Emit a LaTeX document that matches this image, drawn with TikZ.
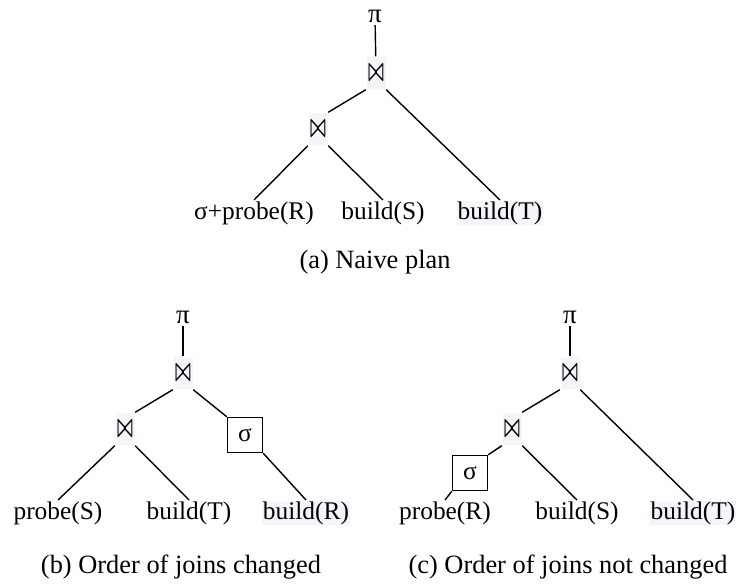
\documentclass[tikz,border=0pt]{standalone}
\usepackage{fontspec}
\usepackage{graphicx}
\setmainfont{Liberation Serif}
\definecolor{hilite}{RGB}{243,245,248}
\newcommand{\jsym}{\raisebox{-1.5pt}{\resizebox{8pt}{7.5pt}{\boldmath$\bowtie$}}}

\begin{document}
\begin{tikzpicture}[x=0.5pt,y=-0.5pt,line width=0.7pt,
    joinbox/.style={fill=hilite,inner sep=0pt,minimum width=9.5pt,minimum height=16pt},
    leaf/.style={anchor=north,inner sep=0.4pt,font=\fontsize{12.7}{15}\selectfont},
    sel/.style={draw,line width=0.7pt,inner sep=0pt,minimum size=17.5pt,font=\fontsize{12.7}{15}\selectfont},
    proj/.style={inner sep=1pt,font=\fontsize{13.5}{15}\selectfont},
    capt/.style={font=\fontsize{13.2}{16}\selectfont}]

    \useasboundingbox (0,0) rectangle (738,588);

    %(a) naive plan:
    \node[proj] (pa) at (375,16) {π};
    \node[joinbox] (ja1) at (376,73) {\jsym};
    \node[joinbox] (ja2) at (318,129) {\jsym};
    \node[leaf] (ra) at (254,200) {σ+probe(R)};
    \node[leaf] (sa) at (383,200) {build(S)};
    \node[leaf,fill=hilite] (ta) at (500,200) {build(T)};
    \draw (pa) -- (ja1);
    \draw (ja1.south west) -- (ja2.north east);
    \draw (ja1.south east) -- (ta.north);
    \draw (ja2.south west) -- (ra.north);
    \draw (ja2.south east) -- (sa.north);
    \node[capt] (capa) at (375,262) {(a) Naive plan};

    %(b) order of joins changed:
    \node[proj] (pb) at (183,317) {π};
    \node[joinbox] (jb1) at (183,373) {\jsym};
    \node[joinbox] (jb2) at (125,429) {\jsym};
    \node[sel] (sb) at (245,435) {σ};
    \node[leaf] (sl) at (58,500) {probe(S)};
    \node[leaf] (tb) at (189,500) {build(T)};
    \node[leaf,fill=hilite] (rb) at (306,500) {build(R)};
    \draw (pb) -- (jb1);
    \draw (jb1.south west) -- (jb2.north east);
    \draw (jb1.south east) -- (sb.north west);
    \draw (sb.south east) -- (rb.north);
    \draw (jb2.south west) -- (sl.north);
    \draw (jb2.south east) -- (tb.north);
    \node[capt] (capb) at (181,567) {(b) Order of joins changed};

    %(c) order of joins not changed:
    \node[proj] (pc) at (570,317) {π};
    \node[joinbox] (jc1) at (570,373) {\jsym};
    \node[joinbox] (jc2) at (512,429) {\jsym};
    \node[sel] (sc) at (470,473) {σ};
    \node[leaf] (rc) at (445,500) {probe(R)};
    \node[leaf] (sc2) at (577,500) {build(S)};
    \node[leaf,fill=hilite] (tc) at (693,500) {build(T)};
    \draw (pc) -- (jc1);
    \draw (jc1.south west) -- (jc2.north east);
    \draw (jc1.south east) -- (tc.north);
    \draw (jc2.south west) -- (sc.north east);
    \draw (sc.south west) -- (rc.north);
    \draw (jc2.south east) -- (sc2.north);
    \node[capt] (capc) at (568,567) {(c) Order of joins not changed};

\end{tikzpicture}
\end{document}
